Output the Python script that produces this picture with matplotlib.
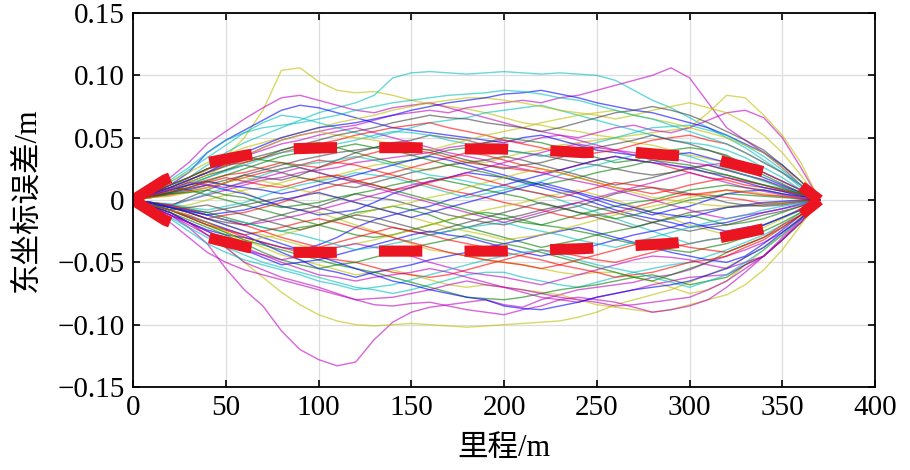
import numpy as np
import matplotlib
matplotlib.use("Agg")
import matplotlib.pyplot as plt

mileage = list(range(0, 371, 10))

# east coordinate error of each simulated run, in mm
runs_mm = [
    [0, 3, 8, 15, 24, 35, 50, 72, 104, 106, 95, 88, 86, 87, 84, 80, 77, 75, 73, 70, 66, 62, 60, 57, 55, 52, 50, 46, 44, 40, 36, 33, 30, 26, 22, 15, 8, 0],
    [0, 4, 10, 18, 28, 38, 46, 52, 58, 64, 70, 74, 78, 84, 98, 102, 103, 102, 101, 102, 103, 102, 101, 102, 101, 100, 96, 88, 80, 74, 66, 58, 50, 42, 32, 22, 10, 0],
    [0, 5, 12, 18, 25, 30, 35, 42, 48, 52, 55, 58, 60, 64, 68, 70, 72, 70, 74, 76, 78, 80, 78, 82, 84, 88, 92, 96, 100, 106, 98, 78, 58, 48, 38, 26, 12, 0],
    [0, -3, -6, -4, 0, 4, 8, 10, 14, 18, 16, 20, 24, 28, 30, 26, 24, 28, 32, 30, 34, 38, 40, 44, 46, 48, 50, 52, 54, 56, 58, 70, 84, 82, 68, 52, 30, 0],
    [0, -2, -4, 0, 4, 8, 12, 16, 18, 22, 24, 26, 30, 32, 34, 36, 38, 42, 44, 46, 48, 46, 50, 52, 50, 54, 58, 60, 56, 54, 58, 64, 70, 72, 66, 50, 26, 0],
    [0, -5, -12, -22, -35, -55, -72, -85, -105, -120, -128, -133, -130, -112, -98, -90, -86, -84, -82, -80, -84, -86, -80, -76, -72, -70, -68, -66, -62, -60, -56, -50, -45, -40, -34, -26, -14, 0],
    [0, -4, -10, -18, -28, -38, -50, -62, -74, -84, -92, -97, -100, -101, -100, -99, -100, -101, -102, -101, -100, -99, -98, -97, -94, -90, -84, -80, -76, -72, -66, -60, -54, -46, -38, -28, -14, 0],
    [0, -3, -8, -14, -20, -26, -32, -38, -44, -48, -52, -56, -60, -58, -56, -60, -64, -68, -70, -68, -70, -72, -74, -76, -80, -84, -86, -88, -90, -88, -84, -80, -76, -68, -56, -40, -20, 0],
    [0, 8, 18, 30, 45, 55, 65, 74, 82, 84, 80, 76, 72, 70, 74, 76, 78, 74, 70, 66, 62, 58, 55, 52, 48, 44, 40, 38, 36, 34, 30, 28, 24, 20, 16, 11, 6, 0],
    [0, 5, 12, 22, 38, 48, 56, 64, 72, 76, 74, 70, 66, 62, 58, 56, 54, 52, 50, 48, 46, 50, 52, 48, 44, 40, 38, 36, 34, 36, 38, 34, 30, 24, 18, 12, 6, 0],
    [0, 6, 14, 24, 34, 44, 54, 62, 68, 66, 62, 58, 54, 50, 54, 58, 62, 64, 66, 70, 72, 74, 76, 72, 68, 64, 60, 56, 52, 48, 46, 44, 40, 34, 26, 18, 8, 0],
    [0, 3, 6, 12, 18, 24, 30, 34, 40, 44, 46, 42, 38, 34, 30, 32, 36, 40, 42, 46, 50, 48, 46, 42, 38, 34, 30, 32, 36, 40, 42, 40, 36, 28, 20, 13, 6, 0],
    [0, 4, 8, 12, 16, 20, 22, 26, 30, 28, 26, 30, 34, 38, 42, 40, 38, 34, 30, 28, 26, 24, 22, 24, 28, 32, 35, 32, 30, 26, 22, 18, 16, 12, 10, 7, 4, 0],
    [0, -3, -5, 2, 8, 14, 20, 18, 16, 20, 26, 32, 38, 42, 46, 48, 52, 50, 48, 44, 40, 38, 36, 33, 30, 28, 25, 22, 20, 22, 26, 28, 24, 20, 16, 10, 5, 0],
    [0, -6, -12, -18, -24, -28, -30, -34, -38, -40, -36, -30, -22, -16, -12, -8, -5, 0, 4, 8, 12, 16, 20, 24, 28, 32, 35, 32, 30, 28, 26, 22, 18, 14, 10, 7, 3, 0],
    [0, 5, 10, 8, 4, 0, -4, -8, -12, -16, -20, -24, -28, -30, -28, -24, -20, -16, -12, -10, -12, -16, -20, -16, -12, -8, -5, -2, 0, 4, 8, 10, 12, 10, 8, 5, 2, 0],
    [0, -4, -8, -12, -18, -24, -30, -34, -38, -42, -46, -48, -50, -54, -58, -60, -62, -60, -56, -52, -48, -44, -40, -42, -45, -48, -50, -46, -42, -38, -35, -32, -30, -26, -20, -14, -7, 0],
    [0, -6, -14, -22, -30, -38, -44, -50, -54, -58, -62, -66, -70, -72, -75, -72, -68, -64, -60, -58, -58, -62, -65, -68, -70, -66, -62, -58, -55, -52, -50, -45, -40, -34, -28, -20, -10, 0],
    [0, -5, -10, -18, -28, -38, -50, -56, -62, -66, -70, -75, -80, -84, -85, -83, -82, -85, -88, -90, -92, -88, -85, -80, -78, -80, -82, -86, -90, -88, -85, -80, -70, -58, -45, -32, -16, 0],
    [0, 2, 5, 10, 15, 12, 6, 0, -5, -8, -10, -15, -20, -25, -30, -35, -40, -42, -45, -48, -50, -52, -55, -58, -60, -58, -58, -62, -65, -70, -75, -72, -65, -52, -40, -28, -14, 0],
    [0, -2, -5, -10, -15, -18, -20, -16, -12, -8, -5, 0, 5, 2, 0, -4, -8, -12, -15, -18, -20, -16, -12, -8, -5, 0, 5, 8, 10, 8, 5, 2, -2, -4, -5, -4, -2, 0],
    [0, 3, 6, 9, 12, 8, 5, 0, -5, -8, -12, -10, -8, -2, 5, 10, 15, 18, 22, 20, 18, 14, 10, 6, 2, -3, -8, -12, -15, -18, -22, -20, -18, -14, -10, -7, -3, 0],
    [0, -2, -4, -7, -10, -14, -18, -22, -25, -22, -20, -15, -10, -8, -5, -8, -12, -18, -22, -26, -30, -34, -38, -35, -32, -28, -25, -22, -18, -15, -12, -16, -20, -18, -15, -10, -5, 0],
    [0, 2, 4, 7, 10, 14, 18, 22, 25, 28, 32, 30, 28, 24, 20, 16, 12, 8, 5, 2, -2, -5, -8, -12, -15, -12, -10, -6, -2, 2, 5, 4, 2, 0, -3, -2, -1, 0],
    [0, -2, -3, -6, -8, -5, -2, 3, 8, 12, 15, 18, 22, 20, 18, 14, 10, 6, 2, 5, 8, 12, 15, 20, 25, 28, 32, 36, 40, 38, 35, 30, 25, 20, 15, 10, 5, 0],
    [0, 5, 10, 16, 22, 28, 35, 40, 45, 48, 52, 55, 58, 54, 50, 46, 42, 38, 35, 32, 28, 25, 22, 18, 15, 12, 8, 4, 0, -4, -8, -12, -15, -12, -10, -7, -4, 0],
    [0, -3, -6, -10, -15, -20, -25, -28, -32, -36, -40, -38, -35, -32, -28, -24, -20, -16, -12, -8, -5, -2, 2, 5, 8, 4, 0, -5, -10, -15, -20, -24, -28, -25, -22, -15, -8, 0],
    [0, 4, 8, 14, 20, 24, 28, 25, 22, 18, 15, 12, 10, 14, 18, 22, 25, 28, 30, 32, 35, 32, 28, 24, 20, 16, 12, 15, 18, 22, 25, 22, 20, 16, 12, 8, 4, 0],
    [0, -4, -8, -13, -18, -23, -28, -35, -42, -48, -55, -58, -62, -58, -55, -52, -48, -45, -42, -38, -35, -32, -28, -25, -22, -26, -30, -34, -38, -42, -45, -48, -50, -45, -35, -24, -12, 0],
    [0, -5, -10, -16, -22, -28, -35, -42, -48, -52, -55, -52, -50, -46, -42, -38, -35, -32, -28, -32, -35, -38, -42, -46, -50, -54, -58, -62, -65, -60, -55, -50, -42, -36, -30, -22, -12, 0],
    [0, 6, 12, 18, 25, 28, 30, 34, 38, 42, 45, 48, 52, 55, 58, 60, 62, 58, 55, 52, 48, 45, 42, 38, 35, 38, 40, 44, 48, 50, 52, 48, 45, 38, 30, 22, 12, 0],
    [0, -3, -5, 0, 5, 10, 15, 20, 25, 28, 30, 32, 35, 32, 28, 24, 20, 18, 15, 12, 10, 8, 5, 0, -5, -10, -15, -20, -25, -30, -35, -32, -30, -25, -20, -14, -8, 0],
    [0, -6, -12, -20, -28, -34, -40, -44, -48, -45, -42, -38, -35, -38, -40, -45, -50, -54, -58, -60, -62, -65, -68, -64, -60, -56, -52, -48, -45, -46, -48, -52, -55, -50, -45, -32, -18, 0],
    [0, 7, 15, 22, 30, 36, 42, 46, 50, 54, 58, 62, 65, 68, 72, 75, 78, 80, 82, 82, 80, 78, 75, 72, 70, 68, 65, 68, 72, 75, 78, 74, 70, 62, 52, 38, 20, 0],
    [0, -3, -6, -8, -10, -7, -4, -1, 2, -2, -6, -10, -15, -18, -22, -25, -28, -25, -22, -18, -15, -12, -8, -5, -2, -6, -10, -14, -18, -22, -25, -22, -20, -16, -12, -9, -5, 0],
    [0, 5, 10, 16, 22, 30, 38, 44, 50, 54, 58, 60, 62, 65, 68, 72, 75, 78, 80, 82, 85, 86, 88, 85, 82, 78, 75, 72, 70, 66, 62, 58, 52, 45, 38, 28, 15, 0],
    [0, -4, -8, -14, -20, -26, -32, -36, -40, -44, -48, -52, -55, -58, -62, -66, -70, -74, -78, -79, -80, -78, -75, -72, -70, -68, -65, -62, -60, -64, -68, -65, -62, -52, -45, -32, -18, 0],
    [0, -2, -4, -8, -12, -16, -20, -25, -30, -34, -38, -34, -30, -26, -22, -25, -28, -32, -35, -38, -42, -45, -48, -52, -55, -58, -62, -60, -58, -54, -50, -48, -45, -38, -32, -22, -12, 0],
    [0, 4, 8, 13, 18, 23, 28, 33, 38, 40, 42, 45, 48, 52, 55, 54, 52, 48, 45, 42, 40, 38, 35, 38, 42, 46, 50, 54, 58, 59, 60, 56, 52, 44, 35, 24, 12, 0],
    [0, -8, -18, -30, -42, -50, -56, -60, -64, -68, -72, -76, -80, -79, -78, -75, -72, -68, -65, -68, -70, -74, -78, -80, -82, -78, -75, -72, -68, -65, -62, -61, -60, -52, -45, -30, -15, 0],
    [0, 4, 8, 14, 20, 28, 35, 42, 48, 52, 55, 52, 50, 48, 45, 42, 40, 44, 48, 52, 55, 58, 62, 65, 68, 70, 72, 68, 65, 62, 58, 54, 50, 44, 38, 26, 15, 0],
    [0, 2, 5, 8, 12, 16, 20, 24, 28, 32, 35, 38, 40, 42, 45, 42, 40, 36, 32, 28, 25, 28, 30, 34, 38, 42, 45, 48, 52, 48, 45, 40, 35, 28, 22, 15, 8, 0],
    [0, -5, -10, -18, -25, -32, -40, -46, -52, -50, -48, -44, -40, -36, -32, -28, -25, -28, -30, -34, -38, -42, -45, -42, -40, -36, -32, -28, -25, -22, -18, -22, -25, -22, -20, -14, -8, 0],
    [0, 6, 12, 18, 25, 30, 35, 32, 30, 26, 22, 18, 15, 12, 8, 4, 0, -4, -8, -12, -15, -18, -20, -22, -25, -28, -32, -35, -38, -40, -42, -38, -35, -30, -25, -18, -10, 0],
    [0, -3, -6, -10, -15, -12, -10, -6, -2, 3, 8, 12, 15, 18, 22, 26, 30, 34, 38, 36, 32, 28, 25, 22, 18, 14, 10, 8, 5, 8, 12, 15, 18, 15, 12, 8, 5, 0],
    [0, -7, -15, -25, -35, -42, -48, -52, -56, -60, -65, -68, -72, -70, -68, -64, -60, -56, -52, -48, -45, -42, -40, -44, -48, -52, -55, -58, -62, -66, -70, -65, -60, -50, -40, -28, -15, 0],
    [0, 4, 8, 12, 15, 12, 10, 8, 5, 8, 12, 16, 20, 24, 28, 32, 35, 32, 28, 24, 20, 16, 12, 8, 5, 0, -5, -8, -12, -8, -5, 0, 5, 7, 8, 5, 3, 0],
    [0, -3, -5, -8, -12, -16, -20, -18, -15, -12, -8, -4, 0, 4, 8, 12, 15, 18, 22, 26, 30, 34, 38, 42, 45, 42, 40, 36, 32, 28, 25, 28, 30, 26, 22, 15, 8, 0],
    [0, 3, 6, 10, 15, 20, 25, 30, 35, 38, 40, 42, 45, 42, 40, 36, 32, 28, 25, 22, 18, 15, 12, 15, 18, 22, 25, 28, 32, 30, 28, 24, 20, 16, 12, 9, 5, 0],
    [0, -3, -6, -9, -12, -16, -18, -22, -25, -28, -32, -36, -40, -38, -35, -32, -28, -25, -22, -20, -18, -22, -25, -28, -32, -35, -38, -34, -30, -26, -22, -18, -15, -12, -8, -5, -3, 0],
    [0, 2, 3, 6, 10, 14, 18, 15, 12, 8, 5, 2, -2, -6, -10, -14, -18, -22, -25, -28, -32, -30, -28, -24, -20, -16, -12, -8, -5, -2, 2, 5, 8, 7, 5, 3, 2, 0],
    [0, -4, -8, -14, -20, -24, -28, -25, -22, -18, -15, -18, -22, -26, -30, -34, -38, -42, -45, -48, -50, -52, -55, -52, -48, -44, -40, -36, -32, -35, -38, -40, -42, -36, -30, -20, -12, 0],
    [0, 5, 10, 16, 22, 27, 32, 36, 40, 44, 48, 52, 55, 58, 62, 65, 68, 66, 65, 62, 60, 58, 55, 58, 62, 66, 70, 72, 75, 72, 68, 62, 55, 48, 40, 28, 15, 0],
    [0, -6, -12, -18, -25, -32, -38, -44, -50, -55, -60, -62, -65, -62, -60, -58, -55, -58, -62, -66, -70, -72, -75, -78, -80, -82, -85, -84, -82, -80, -78, -72, -65, -55, -45, -32, -18, 0],
    [0, 8, 16, 26, 38, 48, 54, 58, 60, 62, 65, 68, 72, 75, 78, 80, 82, 84, 85, 86, 88, 87, 85, 82, 80, 76, 72, 68, 65, 60, 55, 50, 45, 38, 30, 22, 12, 0],
    [0, -3, -6, -10, -15, -20, -25, -30, -35, -40, -45, -50, -55, -60, -65, -68, -72, -75, -78, -80, -85, -87, -88, -85, -82, -78, -75, -72, -70, -68, -65, -60, -55, -46, -38, -26, -15, 0],
    [0, 3, 5, 6, 8, 4, 2, -3, -6, -4, -2, 2, 5, 8, 12, 15, 18, 15, 12, 8, 5, 2, -3, -6, -10, -12, -15, -12, -8, -4, 0, 2, 5, 4, 3, 2, 1, 0],
    [0, -4, -8, -12, -18, -25, -35, -30, -28, -24, -20, -16, -12, -8, -5, -2, 2, 5, 10, 14, 18, 22, 25, 22, 18, 14, 10, 6, 2, 0, -2, -4, -5, -4, -3, -2, -1, 0],
    [0, 3, 7, 10, 14, 18, 15, 12, 10, 14, 18, 20, 16, 12, 8, 10, 14, 18, 20, 16, 12, 8, 5, 2, 6, 10, 14, 12, 10, 6, 4, 6, 8, 6, 4, 3, 1, 0],
    [0, -2, -6, -9, -12, -10, -8, -4, 0, 3, 6, 2, -2, -6, -10, -14, -10, -6, -2, 2, 6, 10, 14, 10, 6, 2, -2, -6, -10, -12, -14, -10, -6, -4, -2, -1, 0, 0],
    [0, 4, 9, 14, 12, 10, 14, 18, 22, 26, 22, 18, 14, 10, 6, 2, -2, -6, -10, -14, -18, -14, -10, -6, -2, 2, 6, 10, 14, 18, 22, 18, 14, 10, 7, 4, 2, 0],
    [0, -4, -8, -6, -4, -8, -12, -16, -20, -24, -20, -16, -12, -14, -18, -22, -26, -22, -18, -14, -10, -6, -2, -6, -10, -14, -18, -22, -18, -14, -10, -8, -6, -5, -4, -3, -1, 0],
]

# red dashed error envelope (m, mm)
env_up_x = [0, 17, 40, 61, 83, 107, 130, 150, 175, 197, 220, 243, 265, 288, 310, 331, 355, 370]
env_up_mm = [0, 16, 30, 36, 41, 42, 42, 42, 41, 41, 40, 38, 39, 36, 34, 26, 17, 0]
env_lo_x = [0, 17, 40, 62, 83, 107, 130, 150, 175, 197, 220, 243, 265, 288, 310, 331, 355, 370]
env_lo_mm = [0, -16, -30, -38, -42, -42, -41, -41, -41, -41, -40, -39, -37, -35, -32, -26, -18, 0]

xticks = [0, 50, 100, 150, 200, 250, 300, 350, 400]
yticks = [-0.15, -0.10, -0.05, 0, 0.05, 0.10, 0.15]
ytick_labels = ["\u22120.15", "\u22120.10", "\u22120.05", "0", "0.05", "0.10", "0.15"]

# old MATLAB colour order, one letter per run
matlab = {"b": "#0000FF", "g": "#008000", "r": "#FF0000", "c": "#00BFBF",
          "m": "#BF00BF", "y": "#BFBF00", "k": "#404040"}
run_colors = "ycmymmyymb" "cgrkbgrcmy" "kbgrcmykbg" "rcmykbgrcm" "ykbgrcbmgc" "yrkmcbgyrbmk"

bad = [i for i, r in enumerate(runs_mm) if len(r) != len(mileage)]
assert not bad, bad

plt.rcParams["font.family"] = ["Liberation Serif", "Noto Sans CJK SC"]

fig = plt.figure(figsize=(9.1, 4.7), dpi=100)
ax = fig.add_axes([0.1462, 0.1766, 0.8154, 0.7957])

x = np.array(mileage)
for i, run in enumerate(runs_mm):
    c = matlab[run_colors[i % len(run_colors)]]
    ax.plot(x, np.array(run) / 1000.0, color=c, lw=1.0, alpha=0.6)

ax.plot(env_up_x, np.array(env_up_mm) / 1000.0, color="#EA1520", lw=8,
        linestyle=(0, (3.9, 3.8)))
ax.plot(env_lo_x, np.array(env_lo_mm) / 1000.0, color="#EA1520", lw=8,
        linestyle=(0, (3.9, 3.8)))

ax.set_xlim(0, 400)
ax.set_ylim(-0.15, 0.15)
ax.set_xticks(xticks)
ax.set_xticklabels([str(t) for t in xticks])
ax.set_yticks(yticks)
ax.set_yticklabels(ytick_labels)
ax.grid(True, color="#DDDDDD", lw=0.9)
ax.set_axisbelow(True)
ax.tick_params(direction="in", length=5, width=1.2, top=True, right=True,
               labelsize=21, pad=6)
for s in ax.spines.values():
    s.set_linewidth(1.3)

ax.set_xlabel("里程/m", fontsize=22)
ax.set_ylabel("东坐标误差/m", fontsize=22)
ax.yaxis.set_label_coords(-0.123, 0.5)
ax.xaxis.set_label_coords(0.5, -0.125)

fig.savefig("out.png", dpi=100)
